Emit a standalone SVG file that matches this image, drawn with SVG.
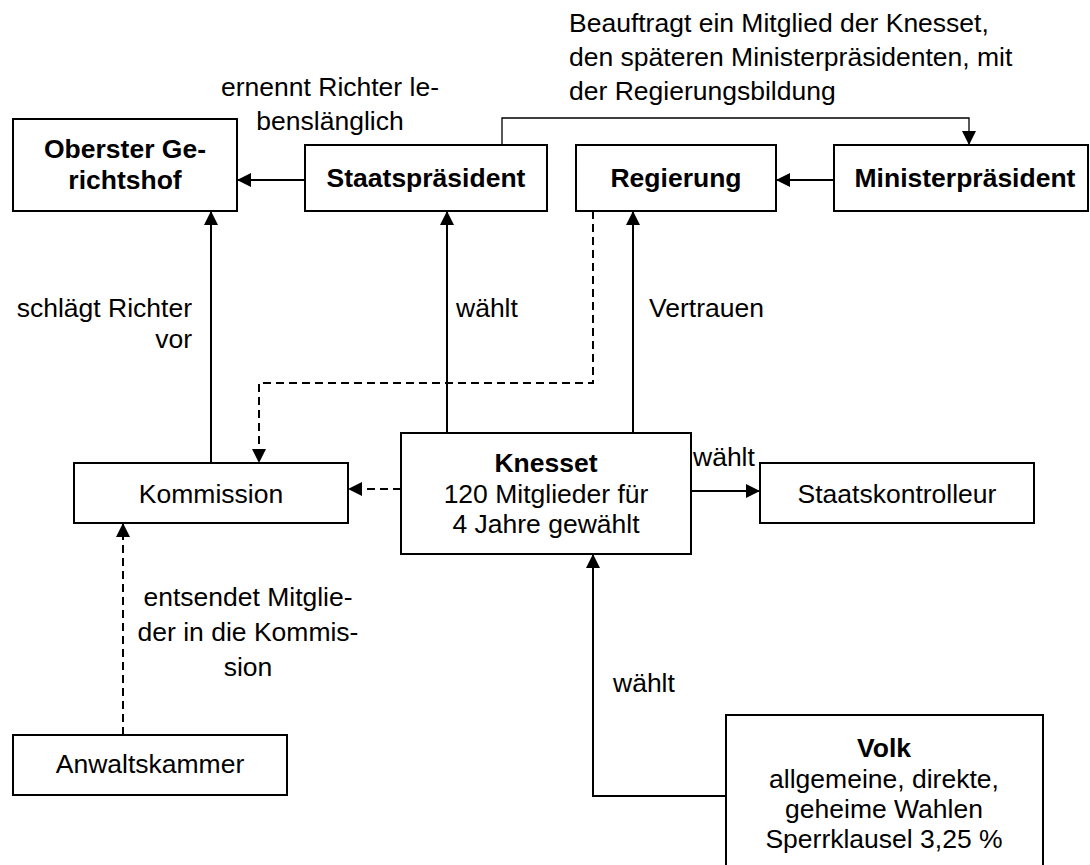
<svg xmlns="http://www.w3.org/2000/svg" width="1090" height="865" viewBox="0 0 1090 865">
<defs>
<style>
.box{fill:#fff;stroke:#000;stroke-width:2}
.t{font-family:"Liberation Sans",Arial,sans-serif;font-size:26.5px;fill:#000}
.b{font-weight:bold}
.c{text-anchor:middle}
.e{text-anchor:end}
.ln{fill:none;stroke:#000;stroke-width:2}
.thin{stroke-width:1.3}
.d{stroke-dasharray:8,5}
</style>
<marker id="ah" markerUnits="userSpaceOnUse" markerWidth="14" markerHeight="14" refX="14" refY="7" orient="auto">
<path d="M0,0 L14,7 L0,14 z" fill="#000"/>
</marker>
</defs>
<rect width="1090" height="865" fill="#fff"/>

<g id="connectors">
<line class="ln" x1="305" y1="180" x2="237" y2="180" marker-end="url(#ah)"/>
<line class="ln" x1="834" y1="180" x2="776" y2="180" marker-end="url(#ah)"/>
<polyline class="ln thin" points="502,145 502,118 969,118 969,145" marker-end="url(#ah)"/>
<line class="ln" x1="211" y1="463" x2="211" y2="211" marker-end="url(#ah)"/>
<line class="ln" x1="447" y1="433" x2="447" y2="211" marker-end="url(#ah)"/>
<line class="ln" x1="633" y1="433" x2="633" y2="211" marker-end="url(#ah)"/>
<polyline class="ln d" points="593,211 593,383 259,383 259,463" marker-end="url(#ah)"/>
<line class="ln d" x1="401" y1="489" x2="348" y2="489" marker-end="url(#ah)"/>
<line class="ln" x1="691" y1="491" x2="760" y2="491" marker-end="url(#ah)"/>
<line class="ln d" x1="123" y1="735" x2="123" y2="523" marker-end="url(#ah)"/>
<polyline class="ln" points="726,796 593,796 593,554" marker-end="url(#ah)"/>
<text class="t c" x="330" y="96">ernennt Richter le-</text>
<text class="t c" x="330" y="130">benslänglich</text>
<text class="t" x="569" y="32">Beauftragt ein Mitglied der Knesset,</text>
<text class="t" x="569" y="66">den späteren Ministerpräsidenten, mit</text>
<text class="t" x="569" y="100">der Regierungsbildung</text>
<text class="t e" x="192" y="317">schlägt Richter</text>
<text class="t e" x="192" y="348">vor</text>
<text class="t" x="456" y="317">wählt</text>
<text class="t" x="649" y="317">Vertrauen</text>
<text class="t" x="693" y="466">wählt</text>
<text class="t c" x="248" y="606">entsendet Mitglie-</text>
<text class="t c" x="248" y="641">der in die Kommis-</text>
<text class="t c" x="248" y="676">sion</text>
<text class="t" x="613" y="692">wählt</text>
</g>

<g id="oberster-gerichtshof">
<rect class="box" x="13" y="119" width="224" height="92"/>
<text class="t b c" x="125" y="158">Oberster Ge-</text>
<text class="t b c" x="125" y="189">richtshof</text>
</g>
<g id="staatspraesident">
<rect class="box" x="305" y="145" width="242" height="66"/>
<text class="t b c" x="426" y="187">Staatspräsident</text>
</g>
<g id="regierung">
<rect class="box" x="576" y="145" width="200" height="66"/>
<text class="t b c" x="676" y="187">Regierung</text>
</g>
<g id="ministerpraesident">
<rect class="box" x="834" y="145" width="254" height="66"/>
<text class="t b c" x="965" y="187">Ministerpräsident</text>
</g>
<g id="kommission">
<rect class="box" x="74" y="463" width="274" height="60"/>
<text class="t c" x="211" y="503">Kommission</text>
</g>
<g id="knesset">
<rect class="box" x="401" y="433" width="290" height="121"/>
<text class="t b c" x="546" y="472">Knesset</text>
<text class="t c" x="546" y="503">120 Mitglieder für</text>
<text class="t c" x="546" y="533">4 Jahre gewählt</text>
</g>
<g id="staatskontrolleur">
<rect class="box" x="760" y="463" width="274" height="60"/>
<text class="t c" x="897" y="503">Staatskontrolleur</text>
</g>
<g id="anwaltskammer">
<rect class="box" x="13" y="735" width="274" height="60"/>
<text class="t c" x="150" y="773">Anwaltskammer</text>
</g>
<g id="volk">
<rect class="box" x="726" y="715" width="317" height="165"/>
<text class="t b c" x="884" y="757">Volk</text>
<text class="t c" x="884" y="788">allgemeine, direkte,</text>
<text class="t c" x="884" y="818">geheime Wahlen</text>
<text class="t c" x="884" y="848">Sperrklausel 3,25 %</text>
</g>
</svg>
